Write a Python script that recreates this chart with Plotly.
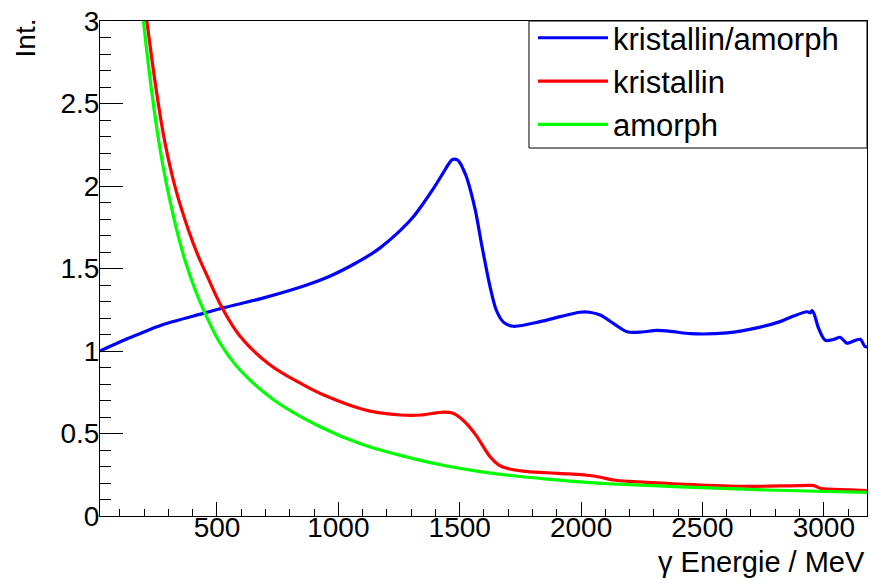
import plotly.graph_objects as go

# ---- data ----
energy_ratio = [18, 135, 273, 444, 527, 685, 870, 960, 1050, 1138, 1172, 1240, 1309, 1350, 1392,
                1430, 1455, 1470, 1490, 1502, 1515, 1529, 1564, 1591, 1625, 1650, 1680, 1721,
                1831, 1914, 1996, 2035, 2079, 2140, 2189, 2250, 2312, 2380, 2450, 2601, 2738,
                2820, 2875, 2930, 2945, 2951, 2960, 2978, 3006, 3040, 3067, 3085, 3095, 3150,
                3170, 3182]
ratio = [1.000, 1.077, 1.158, 1.228, 1.262, 1.319, 1.400, 1.450, 1.515, 1.590, 1.625, 1.710,
         1.814, 1.895, 1.985, 2.075, 2.135, 2.160, 2.158, 2.138, 2.100, 2.050, 1.855, 1.640,
         1.390, 1.250, 1.175, 1.150, 1.178, 1.208, 1.235, 1.235, 1.218, 1.160, 1.117, 1.115,
         1.125, 1.117, 1.105, 1.110, 1.145, 1.178, 1.212, 1.238, 1.232, 1.245, 1.225, 1.140,
         1.065, 1.070, 1.083, 1.060, 1.047, 1.071, 1.026, 1.026]

energy_kristallin = [190, 211, 250, 286, 330, 382, 420, 458, 520, 595, 719, 856, 945, 1103,
                     1172, 1255, 1340, 1433, 1470, 1502, 1540, 1571, 1625, 1660, 1694, 1760,
                     1859, 1950, 2024, 2080, 2133, 2271, 2408, 2490, 2696, 2850, 2940, 2960,
                     2985, 3108, 3182]
kristallin = [3.25, 3.00, 2.58, 2.26, 1.98, 1.735, 1.585, 1.46, 1.265, 1.090, 0.915, 0.795,
              0.730, 0.645, 0.625, 0.612, 0.612, 0.630, 0.624, 0.595, 0.540, 0.481, 0.359,
              0.310, 0.289, 0.272, 0.262, 0.255, 0.247, 0.235, 0.218, 0.204, 0.194, 0.188,
              0.180, 0.183, 0.186, 0.184, 0.168, 0.158, 0.153]

energy_amorph = [180, 197, 266, 321, 369, 417, 451, 513, 595, 733, 925, 1103, 1309, 1447, 1584,
                 1721, 1859, 1996, 2133, 2408, 2696, 2971, 3182]
amorph = [3.30, 3.00, 2.218, 1.814, 1.545, 1.344, 1.228, 1.047, 0.885, 0.705, 0.541, 0.432,
          0.348, 0.303, 0.269, 0.244, 0.224, 0.207, 0.194, 0.177, 0.161, 0.150, 0.143]

names = ["kristallin/amorph", "kristallin", "amorph"]
colors = ["#0000ff", "#ff0000", "#00ff00"]

x_tickvals = [500, 1000, 1500, 2000, 2500, 3000]
y_tickvals = [0, 0.5, 1, 1.5, 2, 2.5, 3]
y_ticktext = ["0", "0.5", "1", "1.5", "2", "2.5", "3"]

FONT = "Liberation Sans, Arial, sans-serif"

fig = go.Figure()
for xs, ys, nm, col, sm in [(energy_ratio, ratio, names[0], colors[0], 0.8),
                             (energy_kristallin, kristallin, names[1], colors[1], 1.0),
                             (energy_amorph, amorph, names[2], colors[2], 1.0)]:
    fig.add_trace(go.Scatter(x=xs, y=ys, mode="lines", name=nm,
                             line=dict(color=col, width=3.2, shape="spline", smoothing=sm)))

fig.update_layout(
    width=871, height=580,
    margin=dict(l=100, r=4, t=21, b=64),
    paper_bgcolor="white", plot_bgcolor="white",
    font=dict(family=FONT, color="black", size=28),
    showlegend=True,
    legend=dict(x=0.5645, y=1.02, xanchor="left", yanchor="top",
                bgcolor="rgba(0,0,0,0)", borderwidth=0,
                font=dict(size=31, family=FONT), itemwidth=70,
                tracegroupgap=0),
    shapes=[dict(type="rect", xref="paper", yref="paper", x0=0.5593, x1=1.0, y0=0.7434, y1=1.0,
                 line=dict(color="black", width=1), fillcolor="white", layer="above")],
    xaxis=dict(range=[18, 3178], showgrid=False, zeroline=False, automargin=False,
               showline=True, linecolor="black", linewidth=1, mirror=True,
               ticks="inside", ticklen=14, tickcolor="black", tickwidth=1,
               tickvals=x_tickvals, tickfont=dict(size=28), ticklabelstandoff=-14,
               minor=dict(ticks="inside", ticklen=7, dtick=100, tick0=0, tickcolor="black")),
    yaxis=dict(range=[0, 3], showgrid=False, zeroline=False, automargin=False,
               showline=True, linecolor="black", linewidth=1, mirror=True,
               ticks="inside", ticklen=23, tickcolor="black", tickwidth=1,
               tickvals=y_tickvals, ticktext=y_ticktext, tickfont=dict(size=28),
               ticklabelstandoff=-6,
               minor=dict(ticks="inside", ticklen=11, dtick=0.1, tick0=0, tickcolor="black")),
    annotations=[
        dict(text="γ Energie / MeV", xref="paper", yref="paper", x=1.0, y=-0.0929,
             xanchor="right", yanchor="middle", showarrow=False, font=dict(size=29)),
        dict(text="Int.", xref="paper", yref="paper", x=-0.0978, y=0.9667,
             xanchor="center", yanchor="middle", textangle=-90, showarrow=False,
             font=dict(size=28)),
    ],
)

fig.write_html("out.html", config={"displayModeBar": False},
               post_script="document.body.style.margin='0';document.body.style.padding='0';"
                           "document.body.style.overflow='hidden';")
